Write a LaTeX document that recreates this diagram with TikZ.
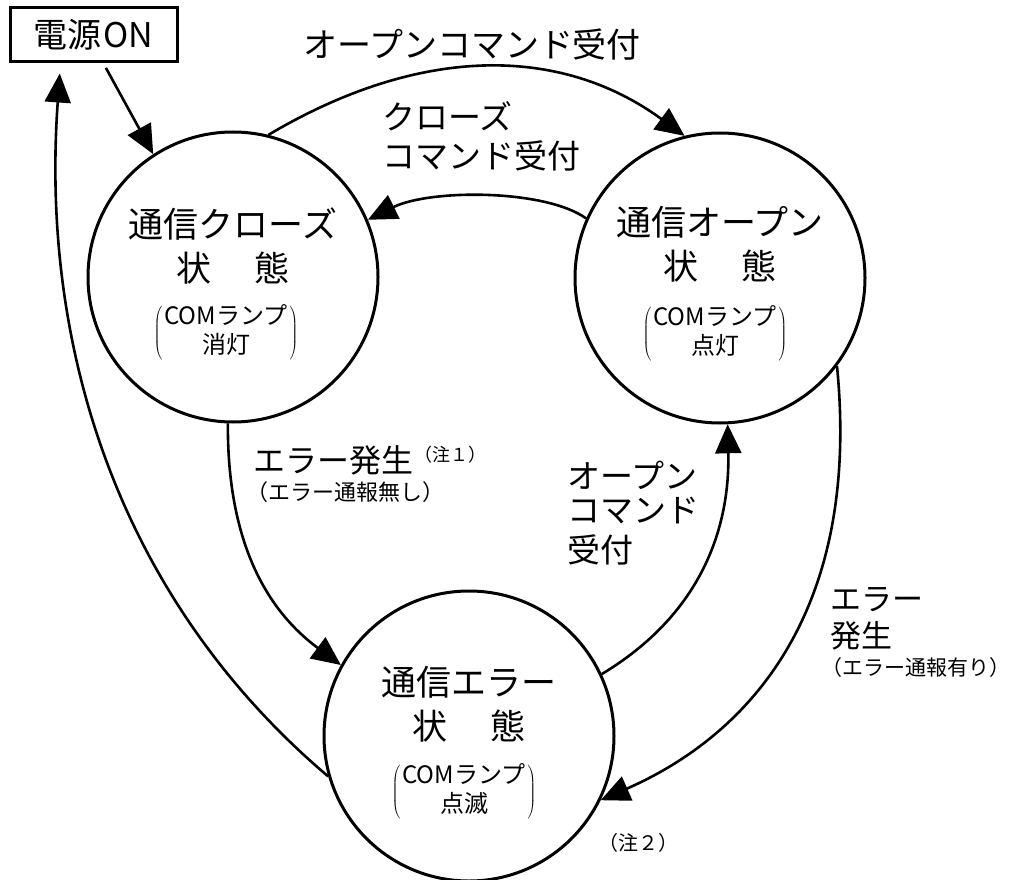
\documentclass[tikz,border=0pt]{standalone}
\usepackage{fontspec}
\setmainfont{Noto Sans CJK JP}
\usetikzlibrary{arrows.meta,calc}
\begin{document}
\begin{tikzpicture}[x=1pt,y=-1pt,
  state/.style={circle,draw,line width=3pt,minimum size=290pt,inner sep=0pt},
  conn/.style={line width=2.6pt,-{Triangle[length=29pt,width=26pt]}},
  title/.style={font=\fontsize{35}{40}\selectfont,inner sep=0pt},
  lamp/.style={font=\fontsize{24}{27}\selectfont,inner sep=0pt},
  lbl/.style={font=\fontsize{33}{38}\selectfont,inner sep=0pt,anchor=west},
  sub/.style={font=\fontsize{22}{26}\selectfont,inner sep=0pt,anchor=west},
]
\useasboundingbox (0,0) rectangle (1034,880);

% states
\node[state] (closed) at (233,277) {};
\node[state] (open) at (720,278) {};
\node[state] (error) at (469,736) {};

\node[title] (closedT) at ($(closed)+(0,-53)$) {通信クローズ};
\node[title] (closedS) at ($(closed)+(0,-9)$) {状\hspace{43pt}態};
\node[lamp] (closedL) at ($(closed)+(-7,56)$) {$\left(\begin{tabular}{@{\hspace{2pt}}c@{\hspace{2pt}}}COMランプ\\消灯\end{tabular}\right)$};

\node[title] (openT) at ($(open)+(0,-56)$) {通信オープン};
\node[title] (openS) at ($(open)+(0,-12)$) {状\hspace{43pt}態};
\node[lamp] (openL) at ($(open)+(-5,56)$) {$\left(\begin{tabular}{@{\hspace{2pt}}c@{\hspace{2pt}}}COMランプ\\点灯\end{tabular}\right)$};

\node[title] (errorT) at ($(error)+(0,-54)$) {通信エラー};
\node[title] (errorS) at ($(error)+(0,-10)$) {状\hspace{43pt}態};
\node[lamp] (errorL) at ($(error)+(-5,56)$) {$\left(\begin{tabular}{@{\hspace{2pt}}c@{\hspace{2pt}}}COMランプ\\点滅\end{tabular}\right)$};

% power box
\node[draw,line width=3pt,minimum width=167pt,minimum height=54pt,inner sep=0pt,
  font=\fontsize{34}{38}\selectfont] (power) at (93.5,35) {電源\kern2pt ON};

% labels
\node[font=\fontsize{34}{38}\selectfont,inner sep=0pt] (lOpen) at (472,45) {オープンコマンド受付};
\node[lbl] (lClose1) at (382,116) {クローズ};
\node[lbl] (lClose2) at (382,156) {コマンド受付};
\node[lbl,font=\fontsize{32}{36}\selectfont] (lErr1) at (253,460) {エラー発生};
\node[sub,font=\fontsize{18}{22}\selectfont] (lNote1) at (414,455) {（注１）};
\node[sub] (lErr1b) at (246,492) {（エラー通報無し）};
\node[lbl] (lOC1) at (567,475) {オープン};
\node[lbl] (lOC2) at (567,511) {コマンド};
\node[lbl] (lOC3) at (567,550) {受付};
\node[lbl,font=\fontsize{31}{36}\selectfont] (lErr2a) at (830,600) {エラー};
\node[lbl,font=\fontsize{31}{36}\selectfont] (lErr2b) at (830,636) {発生};
\node[sub,font=\fontsize{21}{25}\selectfont] (lErr2c) at (821,668) {（エラー通報有り）};
\node[sub,font=\fontsize{20}{24}\selectfont] (lNote2) at (598,843) {（注２）};

% connectors
\draw[conn,shorten <=5pt] ([xshift=10pt]power.south) -- (closed.123);
\draw[conn] (closed.76) .. controls (420,45) and (560,45) .. (open.104);
\draw[conn] (open.156) .. controls (545,189) and (430,189) .. (closed.23);
\draw[conn] (closed.268) .. controls (227,560) and (280,620) .. (error.151);
\draw[conn] (error.25) .. controls (700,615) and (730,530) .. (open.273);
\draw[conn] (open.323) .. controls (860,600) and (760,730) .. (error.334);
\draw[conn,shorten >=10pt] (error.196) .. controls (120,600) and (40,350) .. ([xshift=-33pt]power.south);
\end{tikzpicture}
\end{document}
